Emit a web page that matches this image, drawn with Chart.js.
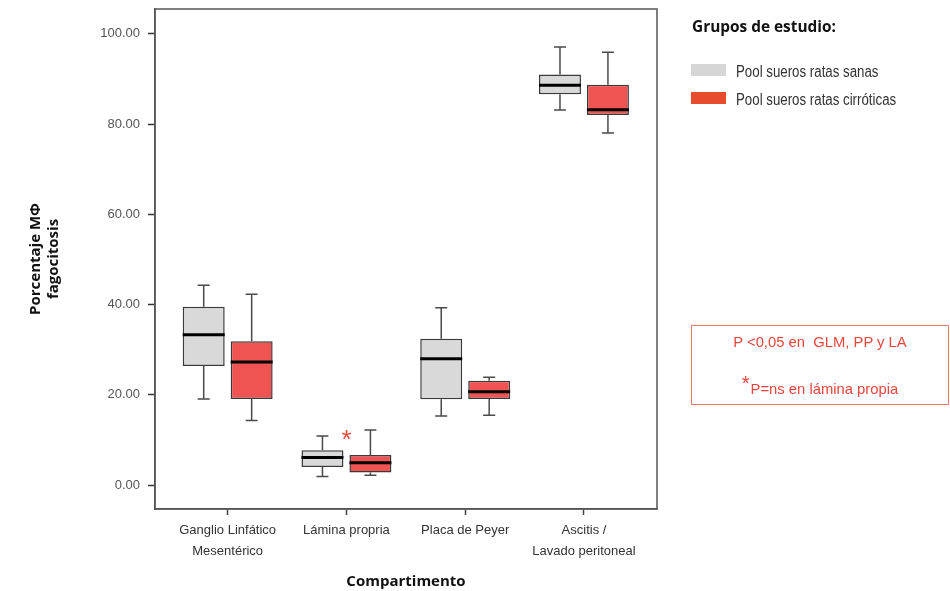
<!DOCTYPE html>
<html>
<head>
<meta charset="utf-8">
<script src="https://cdn.jsdelivr.net/npm/chart.js@4/dist/chart.umd.min.js"></script>
<style>
  html, body { margin: 0; padding: 0; background: #fff; }
  #wrap { position: relative; width: 950px; height: 591px; overflow: hidden; }
  #c { position: absolute; left: 0; top: 0; }
  .arial { font-family: "Liberation Sans", Arial, sans-serif; }
  #legTitle { position: absolute; left: 692px; top: 16px; font-family: "Open Sans", sans-serif; font-weight: 700; font-size: 15.4px; color: #111; white-space: nowrap; }
  .sw { position: absolute; left: 691px; width: 35px; height: 12px; }
  .lt { position: absolute; left: 736px; font-size: 16px; color: #333; white-space: nowrap; line-height: 18px; transform: scaleX(0.83); transform-origin: 0 50%; }
  #note { position: absolute; left: 691px; top: 325px; width: 258px; height: 80px; border: 1px solid #f07a6a; box-sizing: border-box; color: #e8463c; text-align: center; }
  #note1 { position: absolute; left: 0; right: 0; top: 8px; font-size: 14.8px; }
  #note2 { position: absolute; left: 0; right: 0; top: 44px; font-size: 14.8px; }
  #note2 sup { font-size: 20px; position: relative; top: 2px; margin-right: 1px; }
</style>
</head>
<body>
<div id="wrap">
  <canvas id="c" width="950" height="591"></canvas>
  <div id="legTitle">Grupos de estudio:</div>
  <div class="sw" style="top:64px;background:#d6d6d6"></div>
  <div class="lt arial" style="top:63px">Pool sueros ratas sanas</div>
  <div class="sw" style="top:92px;background:#e84c2e"></div>
  <div class="lt arial" style="top:91px">Pool sueros ratas cirróticas</div>
  <div id="note" class="arial">
    <div id="note1">P &lt;0,05 en&nbsp; GLM, PP y LA</div>
    <div id="note2"><sup>*</sup>P=ns en lámina propia</div>
  </div>
</div>
<script>
const categories = [['Ganglio Linfático', 'Mesentérico'], 'Lámina propria', 'Placa de Peyer', ['Ascitis /', 'Lavado peritoneal']];
const groupNames = ['Pool sueros ratas sanas', 'Pool sueros ratas cirróticas'];

const sanasMin    = [19.1, 1.9, 15.3, 83.1];
const sanasQ1     = [26.4, 4.0, 19.0, 86.6];
const sanasMedian = [33.3, 6.1, 28.0, 88.6];
const sanasQ3     = [39.5, 7.7, 32.4, 91.0];
const sanasMax    = [44.3, 10.9, 39.3, 97.1];

const cirrMin     = [14.3, 2.2, 15.5, 78.0];
const cirrQ1      = [19.1, 2.8, 19.1, 82.0];
const cirrMedian  = [27.3, 4.95, 20.7, 83.2];
const cirrQ3      = [31.9, 6.65, 23.1, 88.7];
const cirrMax     = [42.3, 12.2, 23.9, 95.9];

const yTicks = [0, 20, 40, 60, 80, 100];
const starCategory = 1;
const starValue = 10.6;

const stats = [
  { min: sanasMin, q1: sanasQ1, med: sanasMedian, q3: sanasQ3, max: sanasMax },
  { min: cirrMin, q1: cirrQ1, med: cirrMedian, q3: cirrQ3, max: cirrMax }
];

const ARIAL = '"Liberation Sans", Arial, sans-serif';
const BOLD = '"Open Sans", sans-serif';

const boxPlugin = {
  id: 'boxParts',
  beforeDatasetsDraw(chart) {
    const ctx = chart.ctx;
    const y = chart.scales.y;
    ctx.save();
    ctx.strokeStyle = '#4a4a4a';
    ctx.lineWidth = 1.5;
    stats.forEach((s, d) => {
      const meta = chart.getDatasetMeta(d);
      meta.data.forEach((bar, j) => {
        const cx = bar.x;
        const yMin = y.getPixelForValue(s.min[j]);
        const yMax = y.getPixelForValue(s.max[j]);
        const yQ1 = y.getPixelForValue(s.q1[j]);
        const yQ3 = y.getPixelForValue(s.q3[j]);
        ctx.beginPath();
        ctx.moveTo(cx, yMax); ctx.lineTo(cx, yQ3);
        ctx.moveTo(cx, yQ1); ctx.lineTo(cx, yMin);
        ctx.moveTo(cx - 6, yMax); ctx.lineTo(cx + 6, yMax);
        ctx.moveTo(cx - 6, yMin); ctx.lineTo(cx + 6, yMin);
        ctx.stroke();
      });
    });
    ctx.restore();
  },
  afterDatasetsDraw(chart) {
    const ctx = chart.ctx;
    const y = chart.scales.y;
    const x = chart.scales.x;
    const a = chart.chartArea;
    ctx.save();
    ctx.strokeStyle = '#000';
    ctx.lineWidth = 3;
    stats.forEach((s, d) => {
      const meta = chart.getDatasetMeta(d);
      meta.data.forEach((bar, j) => {
        const ym = y.getPixelForValue(s.med[j]);
        ctx.beginPath();
        ctx.moveTo(bar.x - bar.width / 2, ym);
        ctx.lineTo(bar.x + bar.width / 2, ym);
        ctx.stroke();
      });
    });
    ctx.strokeStyle = '#555';
    ctx.lineWidth = 1.5;
    ctx.strokeRect(a.left, a.top, a.right - a.left, a.bottom - a.top);
    ctx.fillStyle = '#e84c3c';
    ctx.font = '26px ' + ARIAL;
    ctx.textAlign = 'center';
    ctx.textBaseline = 'middle';
    ctx.fillText('*', x.getPixelForValue(starCategory), y.getPixelForValue(starValue) + 4);
    ctx.restore();
  }
};

const colors = ['#d9d9d9', '#ef5352'];
const datasets = stats.map((s, d) => ({
  label: groupNames[d],
  data: s.q1.map((v, j) => ({ x: j, y: [v, s.q3[j]] })),
  backgroundColor: colors[d],
  borderColor: '#3a3a3a',
  borderWidth: 1.5,
  borderSkipped: false,
  categoryPercentage: 0.8076,
  barPercentage: 0.875
}));

new Chart(document.getElementById('c'), {
  type: 'bar',
  data: { datasets },
  options: {
    responsive: false,
    animation: false,
    devicePixelRatio: 1,
    layout: { padding: { top: 9, right: 293, bottom: 0, left: 0 } },
    plugins: { legend: { display: false }, tooltip: { enabled: false } },
    scales: {
      x: {
        type: 'linear',
        min: -0.612,
        max: 3.615,
        offset: false,
        afterFit(scale) { scale.height = 82; scale.paddingLeft = 0; scale.paddingRight = 0; },
        afterBuildTicks(scale) { scale.ticks = categories.map((c, i) => ({ value: i })); },
        ticks: {
          autoSkip: false,
          maxRotation: 0,
          padding: 5,
          color: '#333',
          font: { family: ARIAL, size: 13, lineHeight: 1.6 },
          callback: (v) => categories[v]
        },
        grid: { display: true, drawOnChartArea: false, drawTicks: true, tickLength: 6, tickColor: '#444', tickWidth: 1.5, offset: false },
        border: { display: true, color: '#555', width: 1.5 },
        title: {
          display: true,
          text: 'Compartimento',
          color: '#111',
          font: { family: BOLD, size: 15, weight: 'bold' },
          padding: { top: 0, bottom: 0 }
        }
      },
      y: {
        min: -5.3,
        max: 105.5,
        afterFit(scale) { scale.width = 155; scale.paddingTop = 0; scale.paddingBottom = 0; },
        afterBuildTicks(scale) { scale.ticks = yTicks.map(v => ({ value: v })); },
        ticks: {
          padding: 8,
          color: '#555',
          font: { family: ARIAL, size: 13 },
          callback: (v) => Number(v).toFixed(2)
        },
        grid: { display: true, drawOnChartArea: false, drawTicks: true, tickLength: 7, tickColor: '#333', tickWidth: 1.5 },
        border: { display: true, color: '#555', width: 1.5 },
        title: {
          display: true,
          text: ['Porcentaje MΦ', 'fagocitosis'],
          color: '#111',
          font: { family: BOLD, size: 15, weight: 'bold', lineHeight: 1.25 },
          padding: { top: 26, bottom: 0 }
        }
      }
    }
  },
  plugins: [boxPlugin]
});
</script>
</body>
</html>
